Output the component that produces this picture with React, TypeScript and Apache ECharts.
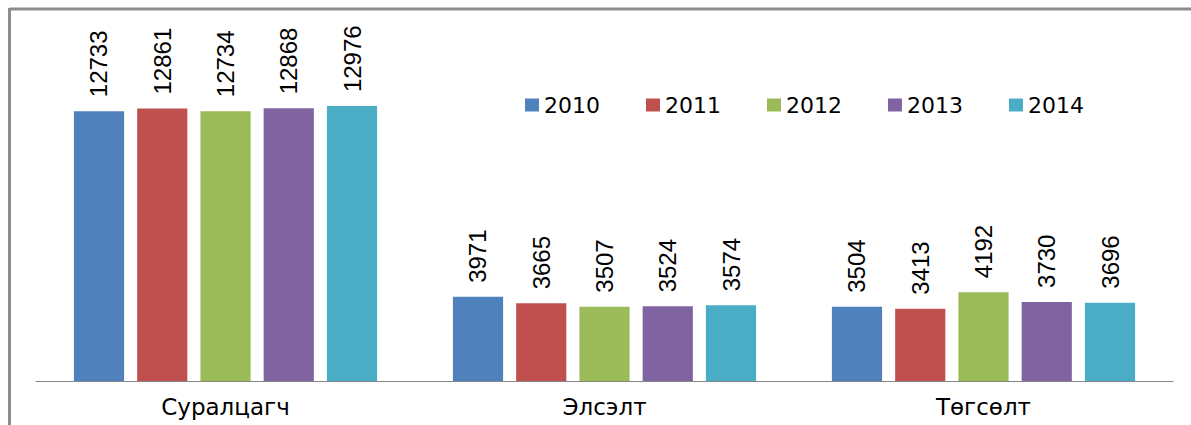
import React, { useEffect, useRef } from "react";
import * as echarts from "echarts";

const categories = ["Суралцагч", "Элсэлт", "Төгсөлт"];
const years = ["2010", "2011", "2012", "2013", "2014"];
const values2010 = [12733, 3971, 3504];
const values2011 = [12861, 3665, 3413];
const values2012 = [12734, 3507, 4192];
const values2013 = [12868, 3524, 3730];
const values2014 = [12976, 3574, 3696];
const seriesValues = [values2010, values2011, values2012, values2013, values2014];
const colors = ["#4F81BD", "#C0504D", "#9BBB59", "#8064A2", "#4BACC6"];

export default function App() {
  const ref = useRef<HTMLDivElement>(null);
  useEffect(() => {
    if (!ref.current) return;
    const chart = echarts.init(ref.current, undefined, { renderer: "svg" });
    chart.setOption({
      animation: false,
      backgroundColor: "#ffffff",
      color: colors,
      grid: { left: 36, right: 18, top: 42, bottom: 44 },
      legend: {
        data: years,
        left: 520,
        top: 89,
        itemWidth: 14,
        itemHeight: 13,
        itemGap: 46,
        icon: "rect",
        textStyle: { fontFamily: "DejaVu Sans", fontSize: 22, color: "#000" },
      },
      xAxis: {
        type: "category",
        data: categories,
        axisTick: { show: false },
        axisLine: { lineStyle: { color: "#868686", width: 1 } },
        axisLabel: {
          fontFamily: "DejaVu Sans",
          fontSize: 23,
          color: "#000",
          margin: 14,
        },
      },
      yAxis: {
        type: "value",
        min: 0,
        max: 16000,
        show: false,
        splitLine: { show: false },
      },
      series: years.map((y, i) => ({
        name: y,
        type: "bar",
        data: seriesValues[i],
        barGap: "26%",
        barCategoryGap: "20%",
        label: {
          show: true,
          position: "top",
          rotate: 90,
          align: "left",
          verticalAlign: "middle",
          distance: 14,
          fontFamily: "Liberation Sans, Arial",
          fontSize: 24,
          color: "#000",
        },
      })),
      graphic: [
        {
          type: "line",
          shape: { x1: 9.5, y1: 9, x2: 1191, y2: 9 },
          style: { stroke: "#8c8c8c", lineWidth: 3 },
        },
        {
          type: "line",
          shape: { x1: 9.5, y1: 8, x2: 9.5, y2: 425 },
          style: { stroke: "#8c8c8c", lineWidth: 3 },
        },
      ],
    });
    return () => chart.dispose();
  }, []);
  return (
    <div
      ref={ref}
      style={{ position: "absolute", left: 0, top: 0, width: 1191, height: 425 }}
    />
  );
}
